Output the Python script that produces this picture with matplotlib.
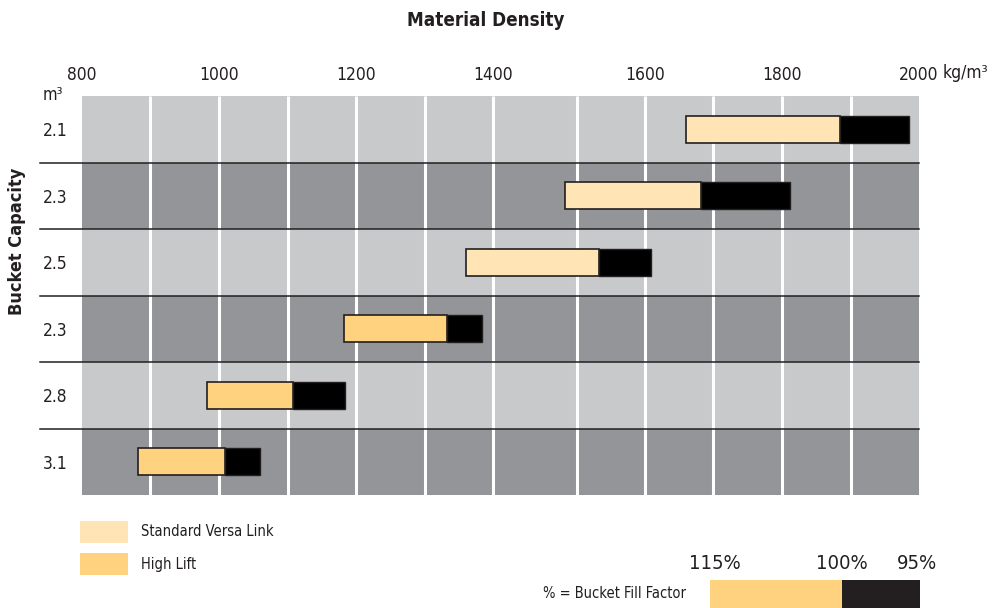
import numpy as np
import matplotlib
matplotlib.use("Agg")
import matplotlib.pyplot as plt
from matplotlib.patches import Rectangle

plt.rcParams["font.family"] = ["DejaVu Sans"]
plt.rcParams["font.stretch"] = "condensed"

# bucket rows, top to bottom
capacities = ["2.1", "2.3", "2.5", "2.3", "2.8", "3.1"]
linkage = ["Standard Versa Link"] * 3 + ["High Lift"] * 3
# material density (kg/m3) at 115%, 100% and 95% fill factor
density_115 = [1660, 1486, 1360, 1183, 983, 883]
density_100 = [1884, 1683, 1532, 1333, 1107, 1008]
density_95 = [1985, 1811, 1609, 1384, 1184, 1059]

major_ticks = [800, 1000, 1200, 1400, 1600, 1800, 2000]
grid_values = list(range(800, 2001, 100))
# the source artwork spaces its grid unevenly (the 1400-1500 cell is wider)
grid_pixels = [82, 150, 219, 288, 356, 424.5, 493, 577, 645, 713, 782, 851, 919]

fill_labels = ["115%", "100%", "95%"]
fill_segments = [132, 78]

link_colors = {"Standard Versa Link": "#ffe5b6", "High Lift": "#fed27f"}
row_colors = ["#c8c9cb", "#939598"]
dark = "#231f20"

W, H = 996, 608


def fx(x):
    return x / W


def fy(y):
    return 1 - y / H


def fwd(v):
    return np.interp(v, grid_values, grid_pixels)


def inv(p):
    return np.interp(p, grid_pixels, grid_values)


fig = plt.figure(figsize=(W / 100, H / 100), dpi=100)
ax = fig.add_axes([fx(82), fy(495), (919 - 82) / W, (495 - 96) / H])
ax.set_xscale("function", functions=(fwd, inv))
ax.set_xlim(800, 2000)
ax.set_ylim(len(capacities) - 0.5, -0.5)

for i in range(len(capacities)):
    ax.axhspan(i - 0.5, i + 0.5, color=row_colors[i % 2], lw=0, zorder=0.2)
for i in range(1, len(capacities)):
    ax.plot([-0.05, 1], [i - 0.5, i - 0.5], color=dark, lw=1.1,
            transform=ax.get_yaxis_transform(), clip_on=False, zorder=2)

ax.vlines(grid_values[1:-1], -0.5, len(capacities) - 0.5, color="white",
          lw=2.2, zorder=1)

lo = np.array(density_115)
mid = np.array(density_100)
hi = np.array(density_95)
ys = np.arange(len(capacities))
ax.barh(ys, hi - mid, left=mid, height=0.4, color="black",
        edgecolor=dark, lw=1.0, zorder=3)
ax.barh(ys, mid - lo, left=lo, height=0.4,
        color=[link_colors[k] for k in linkage],
        edgecolor=dark, lw=1.2, zorder=4)

ax.xaxis.tick_top()
ax.set_xticks(major_ticks)
ax.set_xticklabels([str(t) for t in major_ticks])
ax.tick_params(axis="x", length=0, pad=9, labelsize=12.5, labelcolor=dark)
ax.set_yticks(ys)
ax.set_yticklabels(capacities)
ax.tick_params(axis="y", length=0, pad=28, labelsize=12.5, labelcolor=dark)
for lab in ax.get_yticklabels():
    lab.set_horizontalalignment("left")
for s in ax.spines.values():
    s.set_visible(False)

fig.text(fx(486), fy(20), "Material Density", ha="center", va="center",
         fontsize=13.5, fontweight="bold", color=dark)
fig.text(fx(943), fy(73), "kg/m³", ha="left", va="center", fontsize=12.5,
         color=dark)
fig.text(fx(43), fy(95), "m³", ha="left", va="center", fontsize=12,
         color=dark)
fig.text(fx(17), fy(241), "Bucket Capacity", ha="center", va="center",
         rotation=90, fontsize=13, fontweight="bold", color=dark)

# legend
for j, name in enumerate(["Standard Versa Link", "High Lift"]):
    top = 521 + j * 32
    fig.add_artist(Rectangle((fx(80), fy(top + 22)), 48 / W, 22 / H,
                             color=link_colors[name], lw=0,
                             transform=fig.transFigure))
    fig.text(fx(141), fy(top + 11), name, ha="left", va="center",
             fontsize=10.5, color=dark)

# fill factor scale
sax = fig.add_axes([fx(710), 0, sum(fill_segments) / W, 28 / H])
starts = np.concatenate([[0], np.cumsum(fill_segments)[:-1]])
sax.barh(0, fill_segments, left=starts, height=1,
         color=[link_colors["High Lift"], dark])
sax.set_xlim(0, sum(fill_segments))
sax.set_ylim(-0.5, 0.5)
sax.axis("off")
stops = np.concatenate([[0], np.cumsum(fill_segments)])
offsets = [5, 0, -3]
for lab, s, off in zip(fill_labels, stops, offsets):
    sax.text(s + off, 1.6, lab, ha="center", va="center", fontsize=14.5,
             color=dark, transform=sax.get_xaxis_transform())
fig.text(fx(543), fy(594), "% = Bucket Fill Factor", ha="left",
         va="center", fontsize=10.5, color=dark)

fig.savefig("out.png", dpi=100)
